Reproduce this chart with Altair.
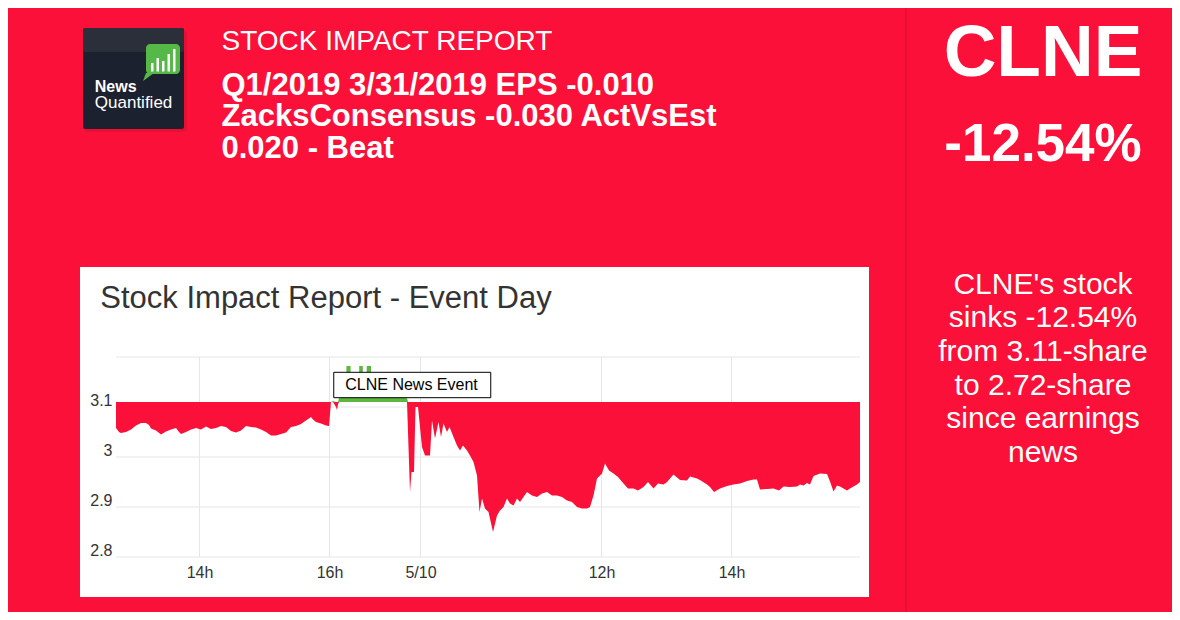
import altair as alt
import pandas as pd

# ---------------- data ----------------
RED = "#FA1038"
GREEN = "#5BB73D"
FONT = "Liberation Sans"
BASE_PRICE = 3.11

bar_idx = [0, 0.6, 1, 2, 3, 4, 5, 6, 6.6, 7, 8, 9, 10, 11, 12, 12.6, 13, 14, 15, 16,
           17, 18, 19, 20, 21, 22, 23, 24, 25, 26, 27, 28, 29, 30, 31, 32, 33, 34, 35, 36,
           37, 38, 39, 39.4, 40, 41, 42, 42.6, 43, 43.4, 44, 44.2, 44.4, 44.6,
           45.4, 46, 46.1, 46.9, 47, 47.8, 48.6, 48.65, 49.35, 49.4, 50.1, 50.15, 51, 51.05,
           51.8, 52.8, 53.8, 54.8, 55.8, 56.8, 57.8, 58.2,
           58.4, 58.8, 59.1, 59.6, 59.9, 60.4, 60.8, 61.2, 61.8, 62.4, 62.8, 63.2, 63.8,
           64.5, 65, 65.5, 66.2, 66.7, 67.5, 68.2, 68.8, 69.4, 70.2, 70.8, 71.5, 72.2,
           72.7, 73.2, 73.8, 74.5, 75.4, 76.2, 76.8, 77.5, 78.2, 78.8, 79.5, 80.2, 80.8,
           81.5, 82.2, 83.2, 84.2, 85.2, 86.2, 87.2, 88.2, 89.2, 90.2, 91.2, 92.2, 93.2,
           94.2, 94.8, 95.5, 96.2, 97.2, 97.8, 98.6, 99.5, 100.4, 101.5, 102.4, 103.5,
           104.4, 105.5, 106.4, 107.5, 108.4, 109.5, 110.2, 111.5, 112.8, 114.2, 114.8,
           116.2, 116.8, 118.2, 118.8, 119.6, 120.8, 122.2, 123.5, 124.8, 126.2, 127.5,
           128.2, 128.8, 130.2, 131.5, 132.6, 133.5, 134.8, 136.2, 136.8, 137.5, 138.2,
           138.8, 139.5, 140.8, 142.2, 142.8, 143.5, 144.2, 144.8, 146.2, 146.8, 147.5,
           148.2, 148.8]
price = [3.058, 3.050, 3.048, 3.050, 3.055, 3.063, 3.068, 3.068, 3.064, 3.057, 3.053,
         3.045, 3.051, 3.055, 3.058, 3.050, 3.046, 3.050, 3.055, 3.058,
         3.055, 3.061, 3.056, 3.058, 3.062, 3.060, 3.052, 3.049, 3.053, 3.062, 3.060,
         3.059, 3.055, 3.050, 3.043, 3.043, 3.046, 3.049, 3.060, 3.062,
         3.066, 3.073, 3.080, 3.075, 3.070, 3.067, 3.063, 3.062, 3.110, 3.112, 3.100,
         3.094, 3.105, 3.118,
         3.120, 3.122, 3.182, 3.182, 3.125, 3.122, 3.125, 3.182, 3.182, 3.125, 3.124,
         3.182, 3.182, 3.125,
         3.122, 3.121, 3.120, 3.121, 3.120, 3.120, 3.119, 3.118,
         3.050, 2.930, 2.970, 2.970, 3.100, 3.100, 3.060, 3.020, 3.003, 3.003, 3.003,
         3.073, 3.037,
         3.070, 3.040, 3.067, 3.050, 3.060, 3.040, 3.023, 3.013, 3.023, 3.013, 3.003,
         2.990, 2.963,
         2.890, 2.917, 2.897, 2.890, 2.850, 2.883, 2.893, 2.900, 2.917, 2.907, 2.903,
         2.917, 2.910,
         2.920, 2.930, 2.923, 2.920, 2.927, 2.930, 2.923, 2.923, 2.920, 2.913, 2.910,
         2.900, 2.897,
         2.897, 2.900, 2.923, 2.957, 2.967, 2.987, 2.973, 2.967, 2.960, 2.947, 2.937,
         2.937,
         2.933, 2.940, 2.950, 2.937, 2.947, 2.945, 2.950, 2.965, 2.954, 2.953, 2.961,
         2.957, 2.954, 2.945, 2.940, 2.930, 2.937, 2.942, 2.945, 2.947, 2.952, 2.955,
         2.955, 2.935, 2.936, 2.937, 2.933, 2.941, 2.940, 2.941, 2.945, 2.943, 2.948,
         2.945, 2.962, 2.967, 2.966, 2.951, 2.931, 2.943, 2.941, 2.933, 2.937, 2.941,
         2.945, 2.950]

x_tick_pos = [16.7, 42.7, 60.9, 97.1, 123.1]
x_tick_labels = ["14h", "16h", "5/10", "12h", "14h"]
y_label_vals = [2.8, 2.9, 3.0, 3.1]
y_grid_vals = [2.8, 2.9, 3.0, 3.1, 3.2]

event_idx = [43.55]
event_label = ["CLNE News Event"]

chart_title = "Stock Impact Report - Event Day"
header_small = "STOCK IMPACT REPORT"
header_lines = ["Q1/2019 3/31/2019 EPS -0.010",
                "ZacksConsensus -0.030 ActVsEst",
                "0.020 - Beat"]
ticker = "CLNE"
change_text = "-12.54%"
summary_lines = ["CLNE's stock", "sinks -12.54%", "from 3.11-share",
                 "to 2.72-share", "since earnings", "news"]
logo_words = ["News", "Quantified"]

# ---------------- layout ----------------
W, H = 744, 200
OX, OY = 116, 357          # page position of the plot area
PAGE_W, PAGE_H = 1164, 604

df = pd.DataFrame({"idx": bar_idx, "price": price})
df["lo"] = df["price"].clip(upper=BASE_PRICE)
df["hi"] = df["price"].clip(lower=BASE_PRICE)
df["base"] = BASE_PRICE

ONE = pd.DataFrame({"k": [0]})

xscale = alt.Scale(domain=[0, 148.8], nice=False, zero=False)
yscale = alt.Scale(domain=[2.8, 3.2], nice=False, zero=False)

label_expr = " : ".join(
    f"abs(datum.value - {p}) < 0.01 ? '{l}'" for p, l in zip(x_tick_pos, x_tick_labels)
) + " : ''"

x_axis = alt.Axis(values=x_tick_pos, labelExpr=label_expr, grid=False, domain=False,
                  ticks=False, labelFontSize=16, labelFont=FONT, labelColor="#333333",
                  labelPadding=15.5, labelBaseline="middle", labelOverlap=False,
                  labelFlush=False, title=None, zindex=1)
y_axis = alt.Axis(values=y_label_vals, format="~g", grid=False, domain=False,
                  ticks=False, labelFontSize=16, labelFont=FONT, labelColor="#333333",
                  labelPadding=4, labelOffset=-7, labelOverlap=False, title=None,
                  zindex=1)


def X(field):
    return alt.X(field, scale=xscale, axis=x_axis)


def Y(field):
    return alt.Y(field, scale=yscale, axis=y_axis)


def box(x1, y1, x2, y2, color, **kw):
    return alt.Chart(ONE).mark_rect(color=color, **kw).encode(
        x=alt.value(x1 - OX), x2=alt.value(x2 - OX),
        y=alt.value(y1 - OY), y2=alt.value(y2 - OY))


def label(s, px, py, size, weight="normal", color="white", align="left"):
    return alt.Chart(ONE).mark_text(
        align=align, baseline="alphabetic", font=FONT, fontSize=size,
        fontWeight=weight, color=color).encode(
        x=alt.value(px - OX), y=alt.value(py - OY), text=alt.value(s))


layers = []

# white chart panel
layers.append(box(80, 267, 869, 597, "white"))

# logo
layers.append(box(85, 31, 187, 132, "#d80d30", cornerRadius=3, opacity=0.5))
layers.append(box(83, 28, 184, 129, "#1c2130", cornerRadius=2))
layers.append(box(83, 28, 184, 52, "#2b2f39", cornerRadius=2))
layers.append(box(146, 44, 180, 74, "#56B846", cornerRadius=4))
layers.append(alt.Chart(ONE).mark_point(
    shape="M-0.5,-1L1.5,-1L-1.25,1Z", filled=True, opacity=1, size=64,
    color="#56B846").encode(x=alt.value(148 - OX), y=alt.value(77 - OY)))
for (bx1, by1) in [(151, 63), (156.5, 58), (162, 61), (167.5, 54), (173, 49)]:
    layers.append(box(bx1, by1, bx1 + 2.5, 71.5, "white"))
layers.append(label(logo_words[0], 94.8, 91.7, 16, "bold"))
layers.append(label(logo_words[1], 94.8, 107.5, 17))

# grid lines
layers.append(alt.Chart(pd.DataFrame({"v": y_grid_vals})).mark_rule(
    color="#e6e6e6", strokeWidth=1).encode(y=Y("v:Q")))
layers.append(alt.Chart(pd.DataFrame({"v": x_tick_pos})).mark_rule(
    color="#e6e6e6", strokeWidth=1).encode(x=X("v:Q")))

red_area = alt.Chart(df).mark_area(color=RED, opacity=1).encode(
    x=X("idx:Q"), y=Y("lo:Q"), y2="base:Q")
green_area = alt.Chart(df).mark_area(color=GREEN, opacity=1).encode(
    x=X("idx:Q"), y=Y("hi:Q"), y2="base:Q")
layers += [red_area, green_area]

# news event flag
ev = pd.DataFrame({"idx": event_idx, "label": event_label})
layers.append(alt.Chart(ev).mark_rect(
    fill="white", stroke="black", strokeWidth=1, width=157, xOffset=78.5).encode(
    x=X("idx:Q"), y=alt.value(372.3 - OY), y2=alt.value(397.7 - OY)))
layers.append(alt.Chart(ev).mark_text(
    align="left", baseline="alphabetic", dx=11.5, font=FONT, fontSize=16,
    color="black").encode(x=X("idx:Q"), y=alt.value(390 - OY), text="label:N"))

# titles & texts
layers.append(label(chart_title, 100.3, 307.7, 31, color="#333333"))
layers.append(label(header_small, 221.5, 49.5, 28))
for i, s in enumerate(header_lines):
    layers.append(label(s, 221.5, 94.5 + i * 31.7, 31, "bold"))
layers.append(label(ticker, 1043, 76, 73, "bold", align="center"))
layers.append(label(change_text, 1043, 161, 53, "bold", align="center"))
for i, s in enumerate(summary_lines):
    layers.append(label(s, 1043, 293.5 + i * 33.7, 30, align="center"))

# right panel divider
layers.append(alt.Chart(ONE).mark_rule(color="#E20E32", strokeWidth=1.5).encode(
    x=alt.value(906 - OX), y=alt.value(0 - OY), y2=alt.value(620 - OY)))

chart = alt.layer(*layers).properties(
    width=W, height=H, background=RED,
    padding={"left": OX - 8, "top": OY - 8,
             "right": PAGE_W - (OX - 8) - W, "bottom": PAGE_H - (OY - 8) - H},
    autosize=alt.AutoSizeParams(type="none"),
).configure_view(stroke=None)

chart.save("out.html", embed_options={"renderer": "svg", "actions": False})
